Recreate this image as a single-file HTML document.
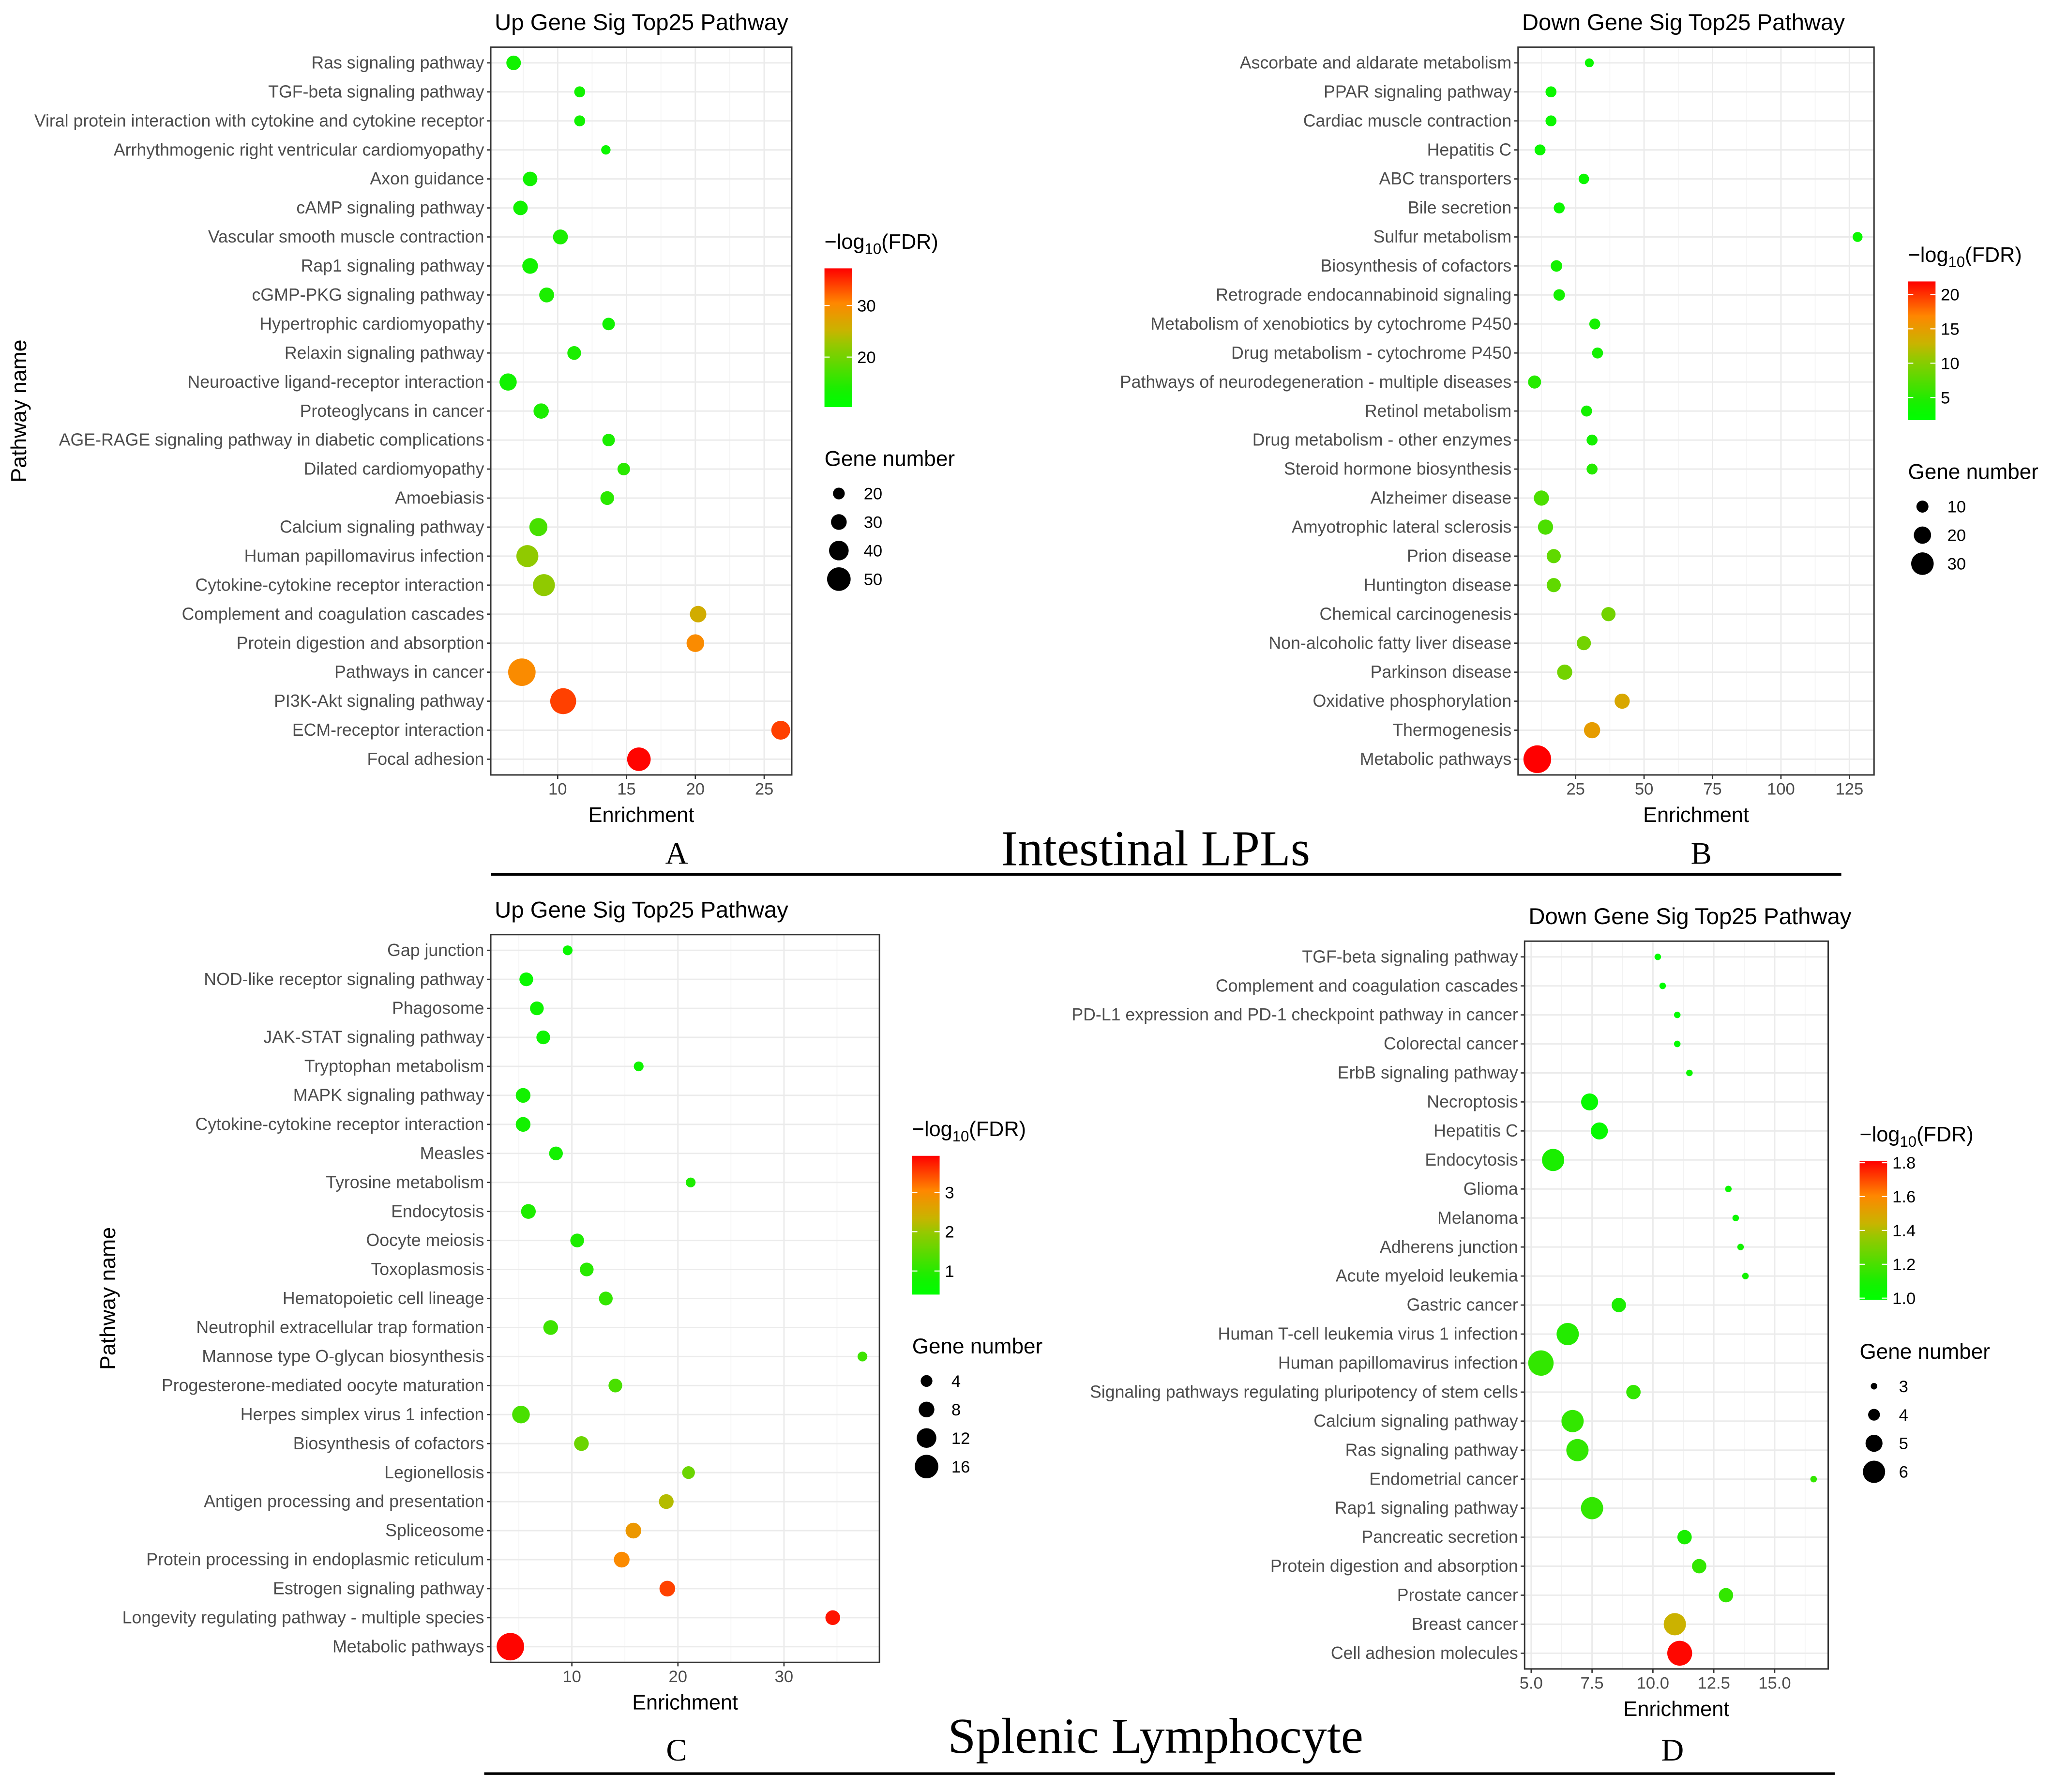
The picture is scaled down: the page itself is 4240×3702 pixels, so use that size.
<!DOCTYPE html>
<html><head><meta charset="utf-8"><style>
html,body{margin:0;padding:0;background:#fff;}
svg{display:block;}
text{font-family:"Liberation Sans",Arial,sans-serif;}
.serif{font-family:"Liberation Serif","Times New Roman",serif;}
</style></head><body>
<svg id="fig" xmlns="http://www.w3.org/2000/svg" width="4240" height="3702" viewBox="0 0 1568 1369">
<rect x="0" y="0" width="1568" height="1369" fill="#fff"/>
<text class="serif" x="883" y="661" font-size="38.5" text-anchor="middle">Intestinal LPLs</text>
<text class="serif" x="517" y="660" font-size="24" text-anchor="middle">A</text>
<text class="serif" x="1300" y="660" font-size="24" text-anchor="middle">B</text>
<line x1="375" y1="668" x2="1407" y2="668" stroke="#000" stroke-width="2"/>
<text class="serif" x="883" y="1339" font-size="38.5" text-anchor="middle">Splenic Lymphocyte</text>
<text class="serif" x="517" y="1345" font-size="24" text-anchor="middle">C</text>
<text class="serif" x="1278" y="1345" font-size="24" text-anchor="middle">D</text>
<line x1="370" y1="1355" x2="1402" y2="1355" stroke="#000" stroke-width="2"/>
</svg>
<script>
// ---- Panel A data ----
const catsA=["Ras signaling pathway","TGF-beta signaling pathway","Viral protein interaction with cytokine and cytokine receptor","Arrhythmogenic right ventricular cardiomyopathy","Axon guidance","cAMP signaling pathway","Vascular smooth muscle contraction","Rap1 signaling pathway","cGMP-PKG signaling pathway","Hypertrophic cardiomyopathy","Relaxin signaling pathway","Neuroactive ligand-receptor interaction","Proteoglycans in cancer","AGE-RAGE signaling pathway in diabetic complications","Dilated cardiomyopathy","Amoebiasis","Calcium signaling pathway","Human papillomavirus infection","Cytokine-cytokine receptor interaction","Complement and coagulation cascades","Protein digestion and absorption","Pathways in cancer","PI3K-Akt signaling pathway","ECM-receptor interaction","Focal adhesion"];
const enrA=[6.8,11.6,11.6,13.5,8.0,7.3,10.2,8.0,9.2,13.7,11.2,6.4,8.8,13.7,14.8,13.6,8.6,7.8,9.0,20.2,20.0,7.4,10.4,26.2,15.9];
const geneA=[27,18,18,14,27,27,28,30,28,22,25,34,29,22,22,25,36,46,46,32,35,60,56,38,50];
const fdrA=[13,13,13,12,13,13,14,13,14,13,14,13,14,14,15,15,17,22,22,26,30,30,34,34,37];
const ticksA=[10,15,20,25];
const colTicksA=[20,30];
const sizeTicksA=[20,30,40,50];
// ---- Panel B data ----
const catsB=["Ascorbate and aldarate metabolism","PPAR signaling pathway","Cardiac muscle contraction","Hepatitis C","ABC transporters","Bile secretion","Sulfur metabolism","Biosynthesis of cofactors","Retrograde endocannabinoid signaling","Metabolism of xenobiotics by cytochrome P450","Drug metabolism - cytochrome P450","Pathways of neurodegeneration - multiple diseases","Retinol metabolism","Drug metabolism - other enzymes","Steroid hormone biosynthesis","Alzheimer disease","Amyotrophic lateral sclerosis","Prion disease","Huntington disease","Chemical carcinogenesis","Non-alcoholic fatty liver disease","Parkinson disease","Oxidative phosphorylation","Thermogenesis","Metabolic pathways"];
const enrB=[30,16,16,12,28,19,128,18,19,32,33,10,29,31,31,12.5,14,17,17,37,28,21,42,31,11];
const geneB=[4,8,8,8,7,8,6,9,9,8,8,12,8,8,8,16,16,14,14,14,14,16,16,18,40];
const fdrB=[3,3,3,3,3,3,3,4,4,4,4,5,4,4,5,7,7,8,8,9,9,9,14,15,22];
const ticksB=[25,50,75,100,125];
const colTicksB=[5,10,15,20];
const sizeTicksB=[10,20,30];
// ---- Panel C data ----
const catsC=["Gap junction","NOD-like receptor signaling pathway","Phagosome","JAK-STAT signaling pathway","Tryptophan metabolism","MAPK signaling pathway","Cytokine-cytokine receptor interaction","Measles","Tyrosine metabolism","Endocytosis","Oocyte meiosis","Toxoplasmosis","Hematopoietic cell lineage","Neutrophil extracellular trap formation","Mannose type O-glycan biosynthesis","Progesterone-mediated oocyte maturation","Herpes simplex virus 1 infection","Biosynthesis of cofactors","Legionellosis","Antigen processing and presentation","Spliceosome","Protein processing in endoplasmic reticulum","Estrogen signaling pathway","Longevity regulating pathway - multiple species","Metabolic pathways"];
const enrC=[9.6,5.7,6.7,7.3,16.3,5.4,5.4,8.5,21.2,5.9,10.5,11.4,13.2,8.0,37.4,14.1,5.2,10.9,21.0,18.9,15.8,14.7,19.0,34.6,4.2];
const geneC=[2,6,6,6,2,7,7,6,2,7,6,6,6,7,2,6,10,7,5,7,8,8,8,7,20];
const fdrC=[0.6,0.6,0.7,0.7,0.7,0.8,0.8,0.8,0.9,0.9,0.9,1.0,1.1,1.2,1.2,1.3,1.3,1.6,1.6,2.2,2.8,3.0,3.5,3.8,3.9];
const ticksC=[10,20,30];
const colTicksC=[1,2,3];
const sizeTicksC=[4,8,12,16];
// ---- Panel D data ----
const catsD=["TGF-beta signaling pathway","Complement and coagulation cascades","PD-L1 expression and PD-1 checkpoint pathway in cancer","Colorectal cancer","ErbB signaling pathway","Necroptosis","Hepatitis C","Endocytosis","Glioma","Melanoma","Adherens junction","Acute myeloid leukemia","Gastric cancer","Human T-cell leukemia virus 1 infection","Human papillomavirus infection","Signaling pathways regulating pluripotency of stem cells","Calcium signaling pathway","Ras signaling pathway","Endometrial cancer","Rap1 signaling pathway","Pancreatic secretion","Protein digestion and absorption","Prostate cancer","Breast cancer","Cell adhesion molecules"];
const enrD=[10.2,10.4,11.0,11.0,11.5,7.4,7.8,5.9,13.1,13.4,13.6,13.8,8.6,6.5,5.4,9.2,6.7,6.9,16.6,7.5,11.3,11.9,13.0,10.9,11.1];
const geneD=[3,3,3,3,3,5,5,6,3,3,3,3,4.5,6,6.6,4.5,6,6,3,6,4.5,4.5,4.5,6,6.5];
const fdrD=[1.0,1.0,1.0,1.0,1.05,1.02,1.02,1.1,1.05,1.05,1.08,1.08,1.1,1.12,1.15,1.15,1.15,1.15,1.15,1.15,1.1,1.15,1.15,1.45,1.8];
const ticksD=[5,7.5,10,12.5,15];
const colTicksD=[1.0,1.2,1.4,1.6,1.8];
const sizeTicksD=[3,4,5,6];

const NS="http://www.w3.org/2000/svg";
const svg=document.getElementById('fig');
function mk(tag,attrs,parent){const e=document.createElementNS(NS,tag);for(const k in attrs)e.setAttribute(k,attrs[k]);(parent||svg).appendChild(e);return e;}
const stops=[[0,[0,255,0]],[0.12,[20,240,0]],[0.45,[150,200,0]],[0.55,[200,180,0]],[0.75,[255,135,0]],[1,[255,0,0]]];
function colorAt(t){t=Math.max(0,Math.min(1,t));for(let i=1;i<stops.length;i++){if(t<=stops[i][0]){const a=stops[i-1],b=stops[i];const u=(t-a[0])/(b[0]-a[0]);const c=a[1].map((v,j)=>Math.round(v+(b[1][j]-v)*u));return 'rgb('+c.join(',')+')';}}return 'rgb(255,0,0)';}

function panel(p){
  const g=mk('g',{});
  
  
  const xs=v=>p.x0+(v-p.dmin)/(p.dmax-p.dmin)*(p.x1-p.x0);
  const n=p.cats.length;
  const yRow=i=>p.yt+12+i*(p.yb-p.yt-24)/(n-1);
  const cs=v=>(v-p.cmin)/(p.cmax-p.cmin);
  const rs=v=>p.r0+(v-p.s0)/(p.s1-p.s0)*(p.r1-p.r0);
  const t=mk('text',{x:p.x0+3,y:p.yt-13,'font-size':17.5},g);t.textContent=p.title;
  
  
  for(let i=0;i<p.ticks.length;i++){
    const v=p.ticks[i];
    const gl=mk('line',{x1:xs(v),x2:xs(v),y1:p.yt,y2:p.yb,stroke:'#ebebeb','stroke-width':1.1},g);
    
    
    if(i>0){const m=(v+p.ticks[i-1])/2;const ml=mk('line',{x1:xs(m),x2:xs(m),y1:p.yt,y2:p.yb,stroke:'#f2f2f2','stroke-width':0.6},g);
      
      }
  }
  const lo=p.ticks[0]-(p.ticks[1]-p.ticks[0])/2;if(xs(lo)>p.x0){const ml=mk('line',{x1:xs(lo),x2:xs(lo),y1:p.yt,y2:p.yb,stroke:'#f2f2f2','stroke-width':0.6},g);}
  const hi=p.ticks[p.ticks.length-1]+(p.ticks[1]-p.ticks[0])/2;if(xs(hi)<p.x1){const ml=mk('line',{x1:xs(hi),x2:xs(hi),y1:p.yt,y2:p.yb,stroke:'#f2f2f2','stroke-width':0.6},g);}
  for(let i=0;i<n;i++){
    const gl=mk('line',{x1:p.x0,x2:p.x1,y1:yRow(i),y2:yRow(i),stroke:'#ebebeb','stroke-width':1.1},g);
    
    
    const tk=mk('line',{x1:p.x0-3,x2:p.x0,y1:yRow(i),y2:yRow(i),stroke:'#333','stroke-width':1},g);
    
    
    const lb=mk('text',{x:p.x0-5,y:yRow(i)+4.3,'font-size':13.2,'text-anchor':'end',fill:'#4d4d4d'},g);
    lb.textContent=p.cats[i];
    
    
  }
  for(let i=0;i<n;i++){
    const c=mk('circle',{cx:xs(p.enr[i]),cy:yRow(i),r:Math.max(2,rs(p.gene[i])),fill:colorAt(cs(p.fdr[i]))},g);
    
    
  }
  const fr=mk('rect',{x:p.x0,y:p.yt,width:p.x1-p.x0,height:p.yb-p.yt,fill:'none',stroke:'#333','stroke-width':1.1},g);
  
  
  for(const v of p.ticks){
    const tk=mk('line',{x1:xs(v),x2:xs(v),y1:p.yb,y2:p.yb+3,stroke:'#333','stroke-width':1},g);
    
    
    const lb=mk('text',{x:xs(v),y:p.yb+15,'font-size':12.8,'text-anchor':'middle',fill:'#4d4d4d'},g);
    lb.textContent=p.tickFmt?v.toFixed(1):String(v);
    
    
  }
  const xt=mk('text',{x:(p.x0+p.x1)/2,y:p.yb+36,'font-size':16,'text-anchor':'middle'},g);
  xt.textContent='Enrichment';
  
  
  if(p.ytx){const yt=mk('text',{x:p.ytx,y:(p.yt+p.yb)/2,'font-size':16.5,'text-anchor':'middle',transform:'rotate(-90 '+p.ytx+' '+((p.yt+p.yb)/2)+')'},g);
    yt.textContent='Pathway name';
    
    }
  const L=p.lx;
  const ct=mk('text',{x:L,y:p.ly,'font-size':16},g);
  ct.innerHTML='−log<tspan font-size="11.5" dy="4">10</tspan><tspan dy="-4">(FDR)</tspan>';
  
  
  const by0=p.ly+15,bh=106;
  const gid='grad'+p.id;
  const defs=mk('defs',{},g);const lg=mk('linearGradient',{id:gid,x1:0,y1:1,x2:0,y2:0},defs);
  for(let k=0;k<=20;k++){mk('stop',{offset:k/20,'stop-color':colorAt(k/20)},lg);}
  const bar=mk('rect',{x:L,y:by0,width:21,height:bh,fill:'url(#'+gid+')'},g);
  
  
  for(const v of p.colTicks){
    const yy=by0+bh-(v-p.cmin)/(p.cmax-p.cmin)*bh;
    mk('line',{x1:L,x2:L+4,y1:yy,y2:yy,stroke:'#fff','stroke-width':0.8},g);
    mk('line',{x1:L+17,x2:L+21,y1:yy,y2:yy,stroke:'#fff','stroke-width':0.8},g);
    const lb=mk('text',{x:L+25,y:yy+4.5,'font-size':12.8},g);
    lb.textContent=p.colFmt?v.toFixed(1):String(v);
    
    
  }
  const st=mk('text',{x:L,y:p.sy,'font-size':16.3},g);
  st.textContent='Gene number';
  
  
  let yy=p.sy+21;
  p.sizeTicks.forEach((v,k)=>{
    const r=Math.max(2,rs(v));
    const c=mk('circle',{cx:L+11,cy:yy,r:r,fill:'#000'},g);
    
    
    const lb=mk('text',{x:L+30,y:yy+4.5,'font-size':12.8},g);
    lb.textContent=String(v);
    
    
    yy+=21.8;
  });
}
panel({id:'a',title:'Up Gene Sig Top25 Pathway',cats:catsA,enr:enrA,gene:geneA,fdr:fdrA,ticks:ticksA,x0:375,x1:605,yt:36,yb:592,dmin:5.14,dmax:27.0,cmin:10.3,cmax:37.2,r0:4.5,r1:9,s0:20,s1:50,colTicks:colTicksA,sizeTicks:sizeTicksA,lx:630,ly:190,sy:356,ytx:20});
panel({id:'b',title:'Down Gene Sig Top25 Pathway',cats:catsB,enr:enrB,gene:geneB,fdr:fdrB,ticks:ticksB,x0:1160,x1:1432,yt:36,yb:592,dmin:3.97,dmax:134,cmin:1.7,cmax:21.9,r0:4.6,r1:8.6,s0:10,s1:30,colTicks:colTicksB,sizeTicks:sizeTicksB,lx:1458,ly:200,sy:366,ytx:0});
panel({id:'c',title:'Up Gene Sig Top25 Pathway',cats:catsC,enr:enrC,gene:geneC,fdr:fdrC,ticks:ticksC,x0:375,x1:672,yt:714,yb:1270,dmin:2.35,dmax:39.0,cmin:0.4,cmax:3.93,r0:4.5,r1:9,s0:4,s1:16,colTicks:colTicksC,sizeTicks:sizeTicksC,lx:697,ly:868,sy:1034,ytx:88});
panel({id:'d',title:'Down Gene Sig Top25 Pathway',cats:catsD,enr:enrD,gene:geneD,fdr:fdrD,ticks:ticksD,x0:1165,x1:1397,yt:719,yb:1275,dmin:4.73,dmax:17.2,cmin:0.99,cmax:1.81,r0:2.5,r1:8.5,s0:3,s1:6,colTicks:colTicksD,sizeTicks:sizeTicksD,lx:1421,ly:872,sy:1038,ytx:0,tickFmt:true,colFmt:true});
</script>
</body></html>
